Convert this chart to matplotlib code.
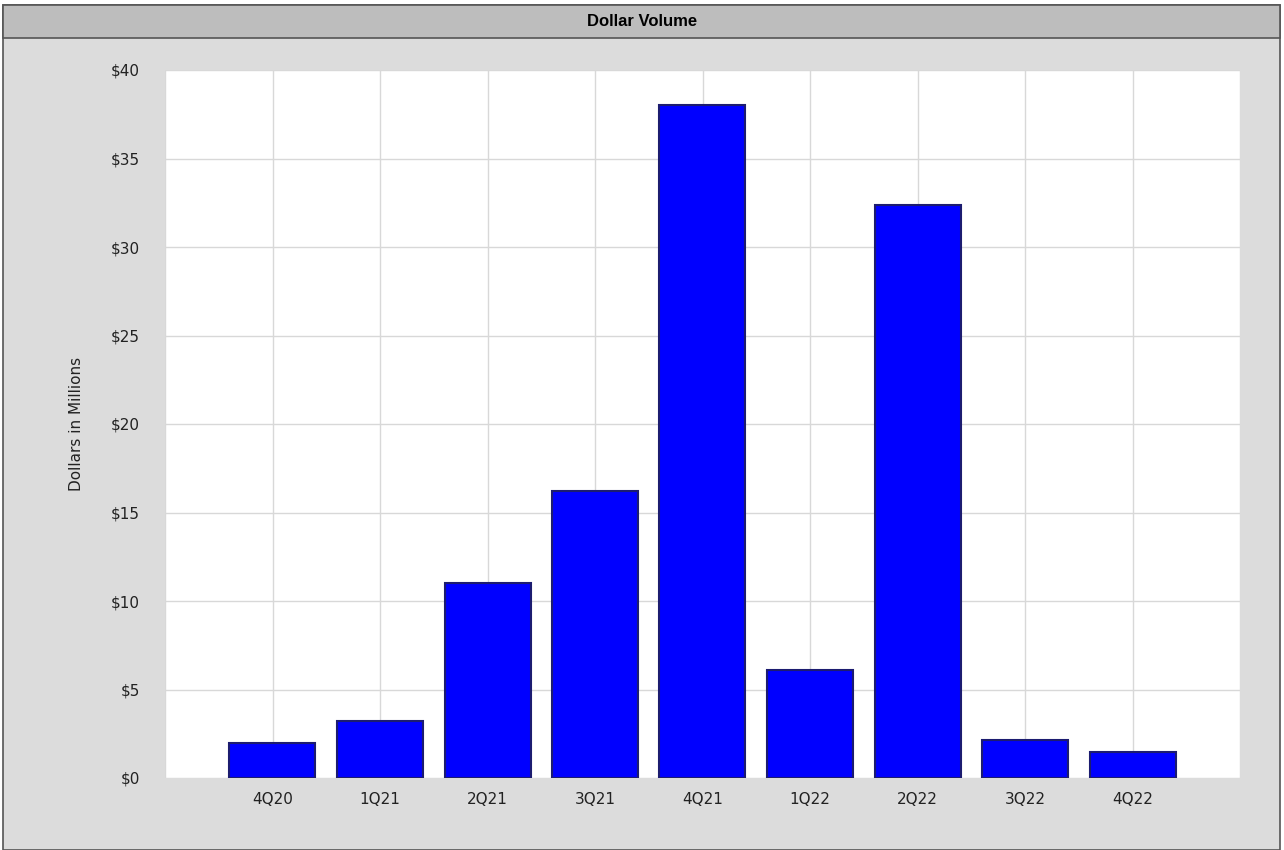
import matplotlib.pyplot as plt
from matplotlib.patches import Rectangle
from matplotlib.ticker import FuncFormatter, MultipleLocator

quarters = ["4Q20", "1Q21", "2Q21", "3Q21", "4Q21", "1Q22", "2Q22", "3Q22", "4Q22"]
dollar_volume = [2.0, 3.2, 11.0, 16.2, 38.0, 6.1, 32.4, 2.15, 1.45]

W, H = 1284, 850
fig = plt.figure(figsize=(W / 100, H / 100), dpi=100)
fig.patch.set_facecolor("white")

# outer panel and title band, kept behind the axes
fig.patches.append(Rectangle((3 / W, 0), 1277 / W, 1 - 5 / H, transform=fig.transFigure,
                             facecolor="#dcdcdc", edgecolor="#555555", linewidth=1.2, zorder=-2))
fig.patches.append(Rectangle((3 / W, 1 - 38 / H), 1277 / W, 33 / H, transform=fig.transFigure,
                             facecolor="#bdbdbd", edgecolor="#555555", linewidth=1.2, zorder=-1))
fig.text(0.5, 1 - 21 / H, "Dollar Volume", ha="center", va="center",
         fontsize=12, fontweight="bold", family="Liberation Sans")

ax = fig.add_axes([165 / W, 1 - 778 / H, 1075 / W, 708 / H])
ax.set_facecolor("white")

x = list(range(1, len(quarters) + 1))
ax.bar(x, dollar_volume, width=0.8, color="#0000ff", edgecolor="#1c1c70", linewidth=1.5, zorder=3)

ax.set_xlim(0, 10)
ax.set_ylim(0, 40)
ax.set_xticks(x)
ax.set_xticklabels(quarters)
ax.xaxis.set_minor_locator(MultipleLocator(1))
ax.yaxis.set_major_locator(MultipleLocator(5))
ax.yaxis.set_major_formatter(FuncFormatter(lambda v, _: f"${v:.0f}"))

ax.grid(True, which="both", axis="x", color="#d8d8d8", linewidth=1.0, zorder=0)
ax.grid(True, axis="y", color="#d8d8d8", linewidth=1.0, zorder=0)
for spine in ax.spines.values():
    spine.set_visible(False)
ax.tick_params(which="both", length=0, labelsize=11, labelcolor="#222222")
ax.tick_params(axis="x", pad=10)
ax.tick_params(axis="y", pad=18)

ax.set_ylabel("Dollars in Millions", fontsize=11, color="#222222", labelpad=19)

fig.savefig("out.png", dpi=100)
